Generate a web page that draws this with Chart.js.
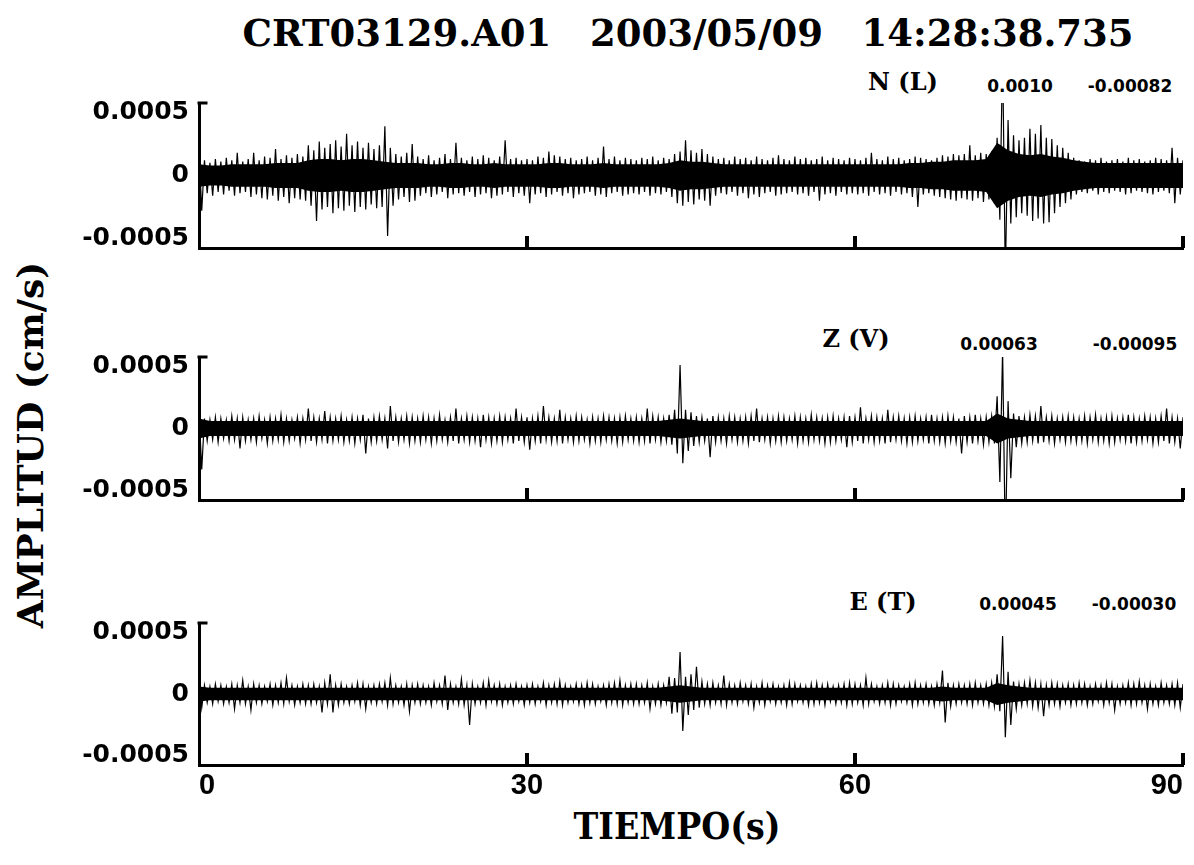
<!DOCTYPE html>
<html>
<head>
<meta charset="utf-8">
<script src="https://cdn.jsdelivr.net/npm/chart.js@4.4.0/dist/chart.umd.min.js"></script>
<style>
  body { margin: 0; background: #fff; width: 1194px; height: 865px; overflow: hidden; position: relative; }
  canvas { position: absolute; left: 0; }
  .t { position: absolute; font-weight: bold; color: #000; white-space: pre; transform: translate(-50%, -50%); line-height: 1; }
  .serif { font-family: 'DejaVu Serif', serif; }
  .cond { font-family: 'DejaVu Serif Condensed', 'DejaVu Serif', serif; }
  .sans { font-family: 'DejaVu Sans', sans-serif; }
</style>
</head>
<body>
<div class="t serif" style="left:688px;top:33px;font-size:37px">CRT03129.A01   2003/05/09   14:28:38.735</div>
<div class="t serif" style="left:30px;top:445px;font-size:36px;transform:translate(-50%,-50%) rotate(-90deg)">AMPLITUD (cm/s)</div>
<div class="t cond" style="left:677px;top:826px;font-size:37px">TIEMPO(s)</div>

<div class="t serif" style="left:903px;top:82px;font-size:24px">N (L)</div>
<div class="t sans" style="left:1020px;top:86px;font-size:17px">0.0010</div>
<div class="t sans" style="left:1130px;top:86px;font-size:17px">-0.00082</div>

<div class="t serif" style="left:856px;top:339px;font-size:24px">Z (V)</div>
<div class="t sans" style="left:999px;top:344px;font-size:17px">0.00063</div>
<div class="t sans" style="left:1135px;top:344px;font-size:17px">-0.00095</div>

<div class="t serif" style="left:883px;top:602px;font-size:24px">E (T)</div>
<div class="t sans" style="left:1018px;top:604px;font-size:17px">0.00045</div>
<div class="t sans" style="left:1134px;top:604px;font-size:17px">-0.00030</div>

<canvas id="chartN"></canvas>
<canvas id="chartZ"></canvas>
<canvas id="chartE"></canvas>

<script>
// amplitudes are in units of 1e-5 cm/s
const SCALE = 1e-5;
const xTicks = [0, 30, 60, 90];
const xTickLabels = ['0', '30', '60', '90'];
const yTicks = [-0.0005, 0, 0.0005];
const yTickLabels = ['-0.0005', '0', '0.0005'];
const Y_LIM = 0.000575;

// peak envelope, one value every 0.5 s (0 .. 90 s)
const nUp = [
  21,12,10,13,11,14,12,18,11,13,18,12,15,14,21,13,16,14,17,15,
  24,20,27,22,25,28,23,33,24,27,22,26,21,24,39,22,17,15,18,25,
  15,13,16,12,14,17,13,26,14,12,15,13,16,14,12,15,28,13,14,12,
  13,12,15,14,19,16,15,13,14,12,13,15,12,14,23,13,15,12,14,13,
  12,14,13,15,12,14,13,17,19,28,20,18,21,17,15,13,14,12,15,13,
  14,12,15,13,12,14,16,13,12,15,13,14,12,13,15,12,14,13,12,14,
  13,12,14,18,13,12,15,13,14,12,13,15,14,13,12,14,16,15,17,16,
  17,24,16,18,17,19,30,100,44,32,28,30,37,33,40,30,29,24,22,18,
  14,12,11,13,12,14,11,12,13,11,14,12,13,11,12,14,13,12,22,14,
  12
];
const nLo = [
  -28,-14,-16,-13,-15,-12,-16,-14,-13,-17,-15,-18,-19,-16,-20,-17,-22,-18,-19,-20,
  -24,-36,-27,-25,-30,-26,-28,-24,-29,-25,-27,-23,-26,-25,-48,-24,-19,-17,-21,-20,
  -16,-14,-17,-15,-13,-18,-15,-14,-16,-13,-17,-15,-14,-18,-16,-15,-13,-17,-14,-16,
  -22,-15,-14,-17,-15,-13,-16,-14,-18,-15,-14,-13,-16,-15,-17,-14,-13,-16,-15,-14,
  -15,-13,-16,-14,-15,-13,-17,-22,-24,-21,-23,-19,-20,-24,-16,-14,-15,-13,-16,-14,
  -18,-15,-17,-14,-13,-16,-15,-14,-13,-15,-14,-16,-13,-20,-15,-14,-16,-13,-15,-14,
  -15,-14,-16,-13,-15,-14,-16,-13,-15,-14,-17,-25,-15,-14,-16,-17,-18,-19,-20,-18,
  -19,-20,-18,-21,-19,-22,-35,-82,-38,-33,-30,-32,-36,-34,-38,-37,-30,-25,-22,-19,
  -15,-13,-14,-12,-15,-13,-14,-12,-13,-15,-14,-12,-13,-14,-15,-13,-12,-14,-22,-15,
  -13
];
// dense core half-width, one value per second
const nCore = [
  9,8,8,9,9,9,9,10,10,10, 12,13,13,12,13,13,12,11,10,10,
  10,9,9,10,10,9,9,10,9,9, 9,9,10,10,9,9,9,10,9,9,
  9,9,9,10,12,11,11,10,9,9, 9,9,9,9,9,9,9,9,9,9,
  9,9,9,9,9,10,10,11,11,12, 12,12,13,26,20,17,16,17,15,14,
  12,11,10,10,10,10,10,10,10,10, 10
];

const zUp = [
  14,8,7,9,8,7,10,8,9,7,8,10,7,9,8,11,8,7,9,8,
  16,9,8,14,9,8,10,7,9,8,11,8,9,10,8,18,9,8,10,9,
  8,10,9,8,11,7,9,16,8,10,9,8,11,9,8,10,9,8,16,9,
  9,8,10,18,9,8,15,9,8,10,9,7,9,8,10,9,8,9,10,8,
  9,8,16,10,9,8,11,15,51,15,13,10,9,8,10,9,8,10,9,8,
  9,10,16,8,9,8,10,9,8,10,9,8,11,9,8,9,10,8,9,10,
  9,17,8,10,9,8,15,9,10,8,9,10,8,9,11,8,9,10,9,8,
  10,9,11,8,9,10,26,63,22,12,10,9,11,10,18,9,10,8,9,10,
  9,8,10,9,11,8,9,10,8,9,11,9,8,10,9,8,10,16,9,8,
  9
];
const zLo = [
  -33,-10,-9,-11,-8,-10,-9,-16,-10,-9,-11,-8,-12,-10,-9,-11,-10,-8,-12,-9,
  -10,-11,-9,-12,-10,-9,-11,-10,-12,-9,-20,-11,-10,-9,-16,-10,-11,-9,-12,-10,
  -11,-9,-12,-10,-9,-11,-10,-12,-9,-11,-10,-15,-9,-12,-10,-11,-9,-12,-10,-11,
  -17,-10,-12,-9,-11,-10,-12,-9,-11,-10,-9,-12,-10,-11,-9,-10,-12,-11,-9,-10,
  -11,-10,-12,-9,-11,-10,-13,-20,-28,-18,-14,-11,-10,-23,-11,-10,-12,-9,-11,-10,
  -12,-10,-11,-9,-12,-10,-11,-10,-9,-12,-10,-11,-9,-10,-12,-11,-10,-9,-15,-11,
  -10,-12,-9,-11,-10,-12,-11,-9,-10,-12,-11,-10,-9,-12,-10,-11,-12,-10,-11,-20,
  -11,-12,-10,-13,-11,-12,-43,-95,-40,-15,-12,-11,-10,-12,-11,-10,-12,-9,-11,-10,
  -11,-10,-12,-9,-11,-10,-12,-11,-9,-10,-12,-11,-10,-9,-12,-11,-10,-12,-11,-16,
  -12
];
const zCore = [
  8,6,6,6,6,6,6,6,6,6, 6,6,6,6,6,6,6,6,6,6,
  6,6,6,6,6,6,6,6,6,6, 6,6,6,6,6,6,6,6,6,6,
  6,6,6,7,8,7,6,6,6,6, 6,6,6,6,6,6,6,6,6,6,
  6,6,6,6,6,6,6,6,6,6, 6,6,6,12,8,7,6,6,6,6,
  6,6,6,6,6,6,6,6,6,6, 6
];

const eUp = [
  15,7,6,8,7,6,8,7,11,6,8,7,6,8,7,9,13,7,6,8,
  7,8,6,9,16,7,8,6,7,9,8,6,7,8,9,13,7,6,8,7,
  8,7,6,9,7,15,8,6,12,7,8,6,9,11,7,8,6,7,8,6,
  7,8,6,9,7,8,10,7,6,8,7,9,8,6,7,8,9,11,7,8,
  8,7,9,6,8,7,14,13,34,14,16,22,10,8,9,7,15,8,7,9,
  7,8,6,9,7,8,6,7,9,8,7,6,8,9,7,8,6,7,8,9,
  8,7,13,8,6,7,9,8,7,6,8,9,7,8,6,8,19,9,7,8,
  7,8,9,7,8,9,16,47,18,10,8,9,11,9,8,7,9,8,7,8,
  7,9,8,6,8,7,9,8,6,7,9,8,10,7,8,6,9,7,8,9,
  8
];
const eLo = [
  -11,-7,-8,-6,-8,-7,-12,-7,-8,-13,-7,-8,-6,-9,-7,-8,-6,-9,-7,-8,
  -8,-7,-15,-8,-15,-9,-7,-8,-6,-9,-12,-7,-8,-6,-9,-8,-7,-9,-14,-7,
  -8,-7,-9,-6,-8,-13,-7,-8,-9,-25,-8,-7,-9,-6,-8,-9,-7,-8,-6,-9,
  -7,-8,-6,-9,-7,-8,-9,-7,-6,-8,-9,-7,-8,-6,-9,-7,-8,-9,-7,-8,
  -8,-7,-12,-8,-9,-7,-16,-15,-30,-17,-13,-11,-8,-9,-7,-8,-9,-7,-8,-6,
  -8,-11,-7,-9,-6,-8,-7,-9,-8,-6,-7,-9,-8,-7,-9,-6,-8,-7,-9,-8,
  -7,-9,-8,-6,-8,-7,-9,-8,-6,-7,-9,-8,-7,-8,-9,-7,-23,-10,-8,-7,
  -8,-9,-7,-8,-9,-10,-14,-35,-25,-12,-9,-8,-10,-11,-18,-9,-8,-10,-7,-9,
  -8,-7,-9,-8,-6,-9,-7,-13,-8,-7,-9,-8,-7,-12,-8,-9,-7,-8,-9,-11,
  -8
];
const eCore = [
  6,5,5,5,5,5,5,5,5,5, 5,5,5,5,5,5,5,5,5,5,
  5,5,5,5,5,5,5,5,5,5, 5,5,5,5,5,5,5,5,5,5,
  5,5,5,6,7,6,5,5,5,5, 5,5,5,5,5,5,5,5,5,5,
  5,5,5,5,5,5,5,5,6,5, 5,5,5,9,7,6,5,5,5,5,
  5,5,5,5,5,5,5,5,5,5, 5
];

function corePoints(core, sign) {
  return core.map((v, i) => ({ x: i, y: sign * v * SCALE }));
}

// zig-zag between the upper and lower peaks
function tracePoints(up, lo) {
  const pts = [];
  up.forEach((v, k) => {
    pts.push({ x: k * 0.5, y: v * SCALE });
    pts.push({ x: k * 0.5 + 0.25, y: lo[k] * SCALE });
  });
  return pts;
}

// ticks drawn inward, like the original plot
const innerTicks = {
  id: 'innerTicks',
  afterDraw(chart) {
    const { ctx, chartArea, scales } = chart;
    ctx.save();
    ctx.fillStyle = '#000';
    xTicks.slice(1).forEach(v => {
      const x = scales.x.getPixelForValue(v);
      ctx.fillRect(x - 2, chartArea.bottom - 12, 4, 12);
    });
    ctx.fillRect(chartArea.left - 1.5, chartArea.top - 1.5, 10, 3);
    ctx.restore();
  }
};

function makeChart(id, top, bottom, showX, core, up, lo) {
  const padTop = 15;
  const xh = showX ? 45 : 12;
  const canvas = document.getElementById(id);
  canvas.width = 1210;
  canvas.height = bottom - top + padTop + xh;
  canvas.style.top = (top - padTop) + 'px';

  new Chart(canvas.getContext('2d'), {
    type: 'line',
    data: {
      datasets: [
        { data: corePoints(core, 1), borderWidth: 0, pointRadius: 0, fill: '+1', backgroundColor: '#000', clip: 0 },
        { data: corePoints(core, -1), borderWidth: 0, pointRadius: 0, fill: false, clip: 0 },
        { data: tracePoints(up, lo), borderColor: '#000', borderWidth: 1.2, pointRadius: 0, tension: 0, fill: false, clip: 0 }
      ]
    },
    options: {
      responsive: false,
      animation: false,
      devicePixelRatio: 1,
      layout: { padding: { top: padTop, left: 0, right: 27, bottom: 0 } },
      plugins: { legend: { display: false }, tooltip: { enabled: false } },
      scales: {
        x: {
          type: 'linear', min: 0, max: 90,
          afterBuildTicks: s => { s.ticks = xTicks.map(v => ({ value: v })); },
          afterFit: s => { s.height = xh; s.paddingLeft = 0; s.paddingRight = 0; },
          grid: { display: false, drawTicks: false },
          border: { display: true, width: 3, color: '#000' },
          ticks: {
            display: showX, padding: 4, color: '#000', maxRotation: 0, align: 'inner',
            font: { family: 'Liberation Sans', weight: 'bold', size: 29 },
            callback: v => xTickLabels[xTicks.indexOf(v)]
          }
        },
        y: {
          min: -Y_LIM, max: Y_LIM,
          afterBuildTicks: s => { s.ticks = yTicks.map(v => ({ value: v })); },
          afterFit: s => { s.width = 199; s.paddingTop = 0; s.paddingBottom = 0; },
          grid: { display: false, drawTicks: false },
          border: { display: true, width: 3, color: '#000' },
          ticks: {
            padding: 10, color: '#000',
            font: { family: 'DejaVu Sans', weight: 'bold', size: 25 },
            callback: v => yTickLabels[yTicks.indexOf(v)]
          }
        }
      }
    },
    plugins: [innerTicks]
  });
}

makeChart('chartN', 103, 248, false, nCore, nUp, nLo);
makeChart('chartZ', 357, 500, false, zCore, zUp, zLo);
makeChart('chartE', 623, 765, true, eCore, eUp, eLo);
</script>
</body>
</html>
